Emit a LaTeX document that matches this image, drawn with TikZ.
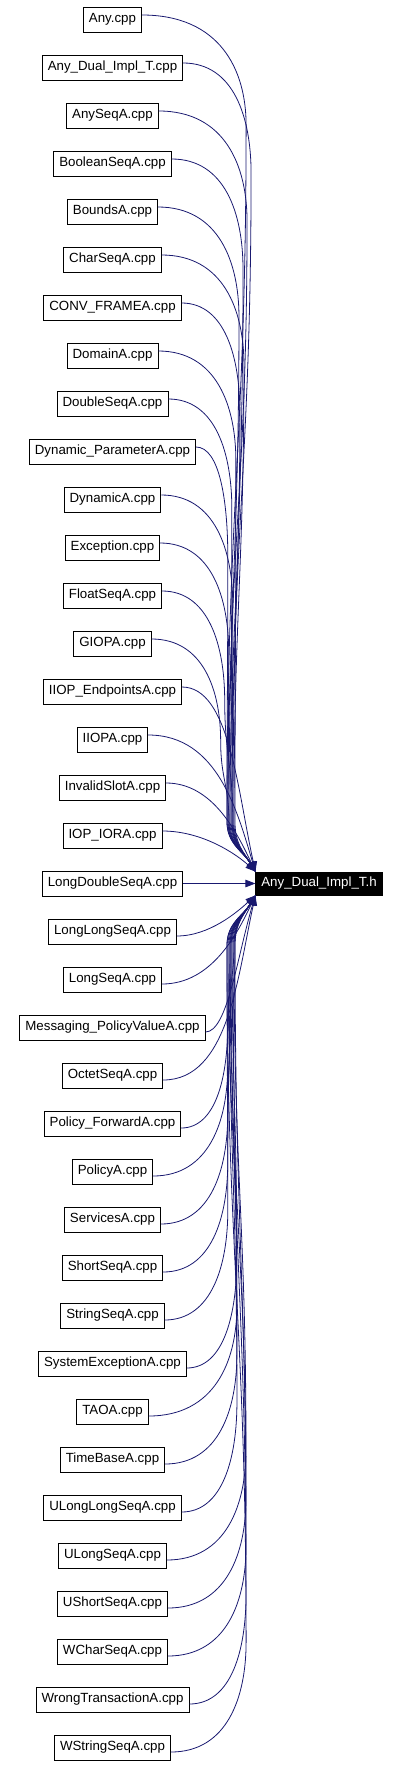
\documentclass[tikz,border=0pt]{standalone}
\usepackage{fontspec}
\setmainfont{Liberation Sans}
\usetikzlibrary{arrows.meta,calc}
\definecolor{edgeblue}{HTML}{191970}
\tikzstyle{FileStyle}=[draw=black, line width=0.8pt, fill=white,
                       minimum height=25pt, inner xsep=5.5pt, inner ysep=0pt,
                       font=\fontsize{13.3}{16}\selectfont]
\tikzstyle{HeaderStyle}=[FileStyle, fill=black, text=white,
                         minimum width=126pt, minimum height=23pt]
\tikzstyle{EdgeStyle}=[edgeblue, line width=0.8pt,
                       -{Triangle[length=10pt,width=7.5pt]}]
% one source file: name, row, label
\newcommand{\srcfile}[3]{
  \pgfmathsetmacro{\rowy}{19.5+48*#2}
  \pgfmathsetmacro{\sgn}{sign(#2-18)}
  \pgfmathsetmacro{\dd}{-\sgn}
  \pgfmathsetmacro{\ady}{abs(883.5+11.5*\sgn-\rowy)}
  \pgfmathsetmacro{\fr}{min(0.95,0.5+\ady/400)}
  \pgfmathsetmacro{\bb}{0.45*\ady}
  \pgfmathsetmacro{\bx}{214+\ady/850*36+mod(#2*7,9)-4}
  \pgfmathsetmacro{\cx}{231+mod(#2*5,9)-4}
  \pgfmathsetmacro{\hh}{min(110,0.45*\ady)}
  \pgfmathsetmacro{\ya}{\rowy+4.5*\sgn}
  \pgfmathsetmacro{\ty}{883.5+11.5*\sgn}
  \pgfmathsetmacro{\my}{\ya+\dd*\hh}
  \pgfmathsetmacro{\ny}{\ty-\dd*50}
  \pgfmathsetmacro{\rr}{0.45*abs(\ny-\my)}
  \ifnum#2<18 \def\anc{north west}\else
    \ifnum#2>18 \def\anc{south west}\else \def\anc{west}\fi\fi
  \node[FileStyle] (#1) at (112.5,-\rowy) {#3};
  \ifdim\ady pt>200pt
    \draw[EdgeStyle] let \p1=([yshift={-4.5*\sgn}]#1.east) in
      (\p1) .. controls ({\x1+(\bx pt-\x1)*0.75},\y1)
                   and (\bx,{-(\ya+\dd*\hh*0.5)}) .. (\bx,-\my)
      .. controls (\bx,{-(\my+\dd*\rr)}) and (\cx,{-(\ny-\dd*\rr)}) .. (\cx,-\ny)
      .. controls (\cx,{-(\ny+\dd*22)}) and +(-12,{\dd*20}) .. (AnyDualH.\anc);
  \else
    \draw[EdgeStyle] let \p1=([yshift={-4.5*\sgn}]#1.east) in
      (\p1) .. controls ({\x1+(232pt-\x1)*\fr},\y1) and +(-18,{-\sgn*\bb})
      .. (AnyDualH.\anc);
  \fi
}

\begin{document}
\begin{tikzpicture}[x=1pt,y=1pt]
  \useasboundingbox (0,0) rectangle (400,-1766);
  \node[HeaderStyle] (AnyDualH) at (319,-883.5) {Any\_Dual\_Impl\_T.h};
  \srcfile{Any}{0}{Any.cpp}
  \srcfile{AnyDual}{1}{Any\_Dual\_Impl\_T.cpp}
  \srcfile{AnySeq}{2}{AnySeqA.cpp}
  \srcfile{BooleanSeq}{3}{BooleanSeqA.cpp}
  \srcfile{Bounds}{4}{BoundsA.cpp}
  \srcfile{CharSeq}{5}{CharSeqA.cpp}
  \srcfile{ConvFrame}{6}{CONV\_FRAMEA.cpp}
  \srcfile{Domain}{7}{DomainA.cpp}
  \srcfile{DoubleSeq}{8}{DoubleSeqA.cpp}
  \srcfile{DynParam}{9}{Dynamic\_ParameterA.cpp}
  \srcfile{Dynamic}{10}{DynamicA.cpp}
  \srcfile{Exception}{11}{Exception.cpp}
  \srcfile{FloatSeq}{12}{FloatSeqA.cpp}
  \srcfile{GIOP}{13}{GIOPA.cpp}
  \srcfile{IIOPEnd}{14}{IIOP\_EndpointsA.cpp}
  \srcfile{IIOP}{15}{IIOPA.cpp}
  \srcfile{InvalidSlot}{16}{InvalidSlotA.cpp}
  \srcfile{IOPIOR}{17}{IOP\_IORA.cpp}
  \srcfile{LongDoubleSeq}{18}{LongDoubleSeqA.cpp}
  \srcfile{LongLongSeq}{19}{LongLongSeqA.cpp}
  \srcfile{LongSeq}{20}{LongSeqA.cpp}
  \srcfile{MsgPolicy}{21}{Messaging\_PolicyValueA.cpp}
  \srcfile{OctetSeq}{22}{OctetSeqA.cpp}
  \srcfile{PolicyFwd}{23}{Policy\_ForwardA.cpp}
  \srcfile{Policy}{24}{PolicyA.cpp}
  \srcfile{Services}{25}{ServicesA.cpp}
  \srcfile{ShortSeq}{26}{ShortSeqA.cpp}
  \srcfile{StringSeq}{27}{StringSeqA.cpp}
  \srcfile{SysExc}{28}{SystemExceptionA.cpp}
  \srcfile{TAO}{29}{TAOA.cpp}
  \srcfile{TimeBase}{30}{TimeBaseA.cpp}
  \srcfile{ULongLongSeq}{31}{ULongLongSeqA.cpp}
  \srcfile{ULongSeq}{32}{ULongSeqA.cpp}
  \srcfile{UShortSeq}{33}{UShortSeqA.cpp}
  \srcfile{WCharSeq}{34}{WCharSeqA.cpp}
  \srcfile{WrongTrans}{35}{WrongTransactionA.cpp}
  \srcfile{WStringSeq}{36}{WStringSeqA.cpp}
\end{tikzpicture}
\end{document}
